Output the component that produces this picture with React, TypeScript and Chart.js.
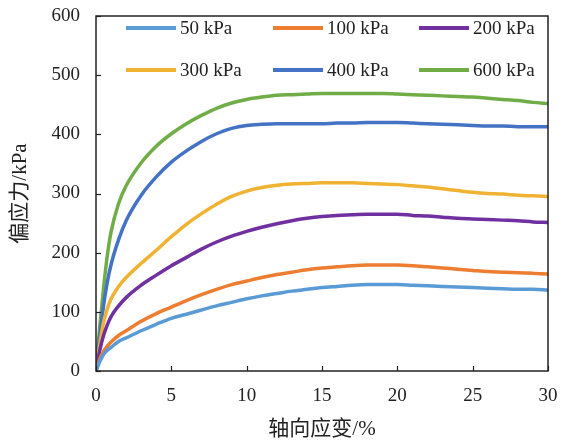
import React, { useEffect, useRef } from 'react';
import { Chart, registerables } from 'chart.js';

Chart.register(...registerables);

// Axial strain (%) sample points shared by every curve
const strain = [
  0, 0.25, 0.5, 0.75, 1, 1.5, 2, 3, 4, 5, 6, 7, 8, 9, 10, 11, 12, 13, 14, 15,
  16, 17, 18, 19, 20, 21, 22, 23, 24, 25, 26, 27, 28, 29, 30,
];

// Deviator stress (kPa) for each confining pressure
const s50 = [
  0, 16, 28, 35, 40, 50, 56, 68, 79, 89, 96, 103, 110, 116, 122, 127, 131, 135, 138, 141,
  143, 145, 146, 146, 146, 145, 144, 143, 142, 141, 140, 139, 138, 138, 137,
];
const s100 = [
  0, 20, 33, 42, 49, 60, 68, 84, 97, 108, 119, 129, 138, 146, 152, 158, 163, 167, 171, 174,
  176, 178, 179, 179, 179, 178, 176, 174, 172, 170, 168, 167, 166, 165, 164,
];
const s200 = [
  0, 35, 60, 78, 92, 110, 124, 145, 162, 178, 192, 206, 218, 228, 236, 243, 249, 254, 258, 261,
  263, 264, 265, 265, 265, 263, 262, 260, 258, 257, 256, 255, 254, 252, 251,
];
const s300 = [
  0, 45, 82, 105, 122, 143, 158, 182, 204, 227, 248, 266, 282, 295, 304, 310, 314, 316, 317, 318,
  318, 318, 317, 316, 315, 313, 311, 308, 305, 302, 300, 299, 297, 296, 295,
];
const s400 = [
  0, 60, 110, 150, 180, 222, 254, 297, 328, 353, 372, 388, 401, 410, 415, 417, 418, 418, 418, 418,
  419, 419, 420, 420, 420, 419, 418, 417, 416, 415, 414, 414, 413, 413, 413,
];
const s600 = [
  0, 75, 140, 195, 235, 283, 313, 352, 380, 401, 418, 432, 444, 453, 459, 463, 466, 467, 468, 469,
  469, 469, 469, 469, 468, 467, 466, 465, 464, 463, 461, 459, 457, 454, 452,
];

const seriesLabels = ['50 kPa', '100 kPa', '200 kPa', '300 kPa', '400 kPa', '600 kPa'];
const seriesValues = [s50, s100, s200, s300, s400, s600];
const seriesColors = ['#5B9BD5', '#ED7D31', '#7030A0', '#F0B232', '#4472C4', '#70AD47'];

const xMin = 0;
const xMax = 30;
const xStep = 5;
const yMin = 0;
const yMax = 600;
const yStep = 100;

const xTitle = '轴向应变/%';
const yTitle = '偏应力/kPa';

const FONT = "'Liberation Serif', 'Noto Sans CJK SC', serif";
const INK = '#222';
const TICK_SIZE = 19;
const TITLE_SIZE = 21;

// Plot frame on all four sides with inward tick marks
const framePlugin = {
  id: 'frame',
  afterDatasetsDraw(chart: any) {
    const { ctx, chartArea, scales } = chart;
    const { left, right, top, bottom } = chartArea;
    ctx.save();
    ctx.strokeStyle = INK;
    ctx.lineWidth = 1.5;
    ctx.strokeRect(left, top, right - left, bottom - top);
    ctx.lineWidth = 1.2;
    const tl = 5;
    scales.x.ticks.forEach((t: any) => {
      const px = Math.round(scales.x.getPixelForValue(t.value)) + 0.5;
      ctx.beginPath();
      ctx.moveTo(px, bottom);
      ctx.lineTo(px, bottom - tl);
      ctx.stroke();
    });
    scales.y.ticks.forEach((t: any) => {
      const py = Math.round(scales.y.getPixelForValue(t.value)) + 0.5;
      ctx.beginPath();
      ctx.moveTo(left, py);
      ctx.lineTo(left + tl, py);
      ctx.stroke();
    });
    ctx.restore();
  },
};

// Two-row legend drawn inside the plot area
const legendPlugin = {
  id: 'insideLegend',
  afterDraw(chart: any) {
    const { ctx, chartArea } = chart;
    const colOffsets = [30, 177, 323];
    const rowOffsets = [12, 54];
    const lineLen = 50;
    ctx.save();
    ctx.font = `${TICK_SIZE}px ${FONT}`;
    ctx.textBaseline = 'middle';
    ctx.fillStyle = INK;
    chart.data.datasets.forEach((ds: any, i: number) => {
      const x = chartArea.left + colOffsets[i % 3];
      const y = chartArea.top + rowOffsets[Math.floor(i / 3)];
      ctx.strokeStyle = ds.borderColor;
      ctx.lineWidth = 4;
      ctx.lineCap = 'butt';
      ctx.beginPath();
      ctx.moveTo(x, y);
      ctx.lineTo(x + lineLen, y);
      ctx.stroke();
      ctx.fillText(ds.label, x + lineLen + 4, y + 1);
    });
    ctx.restore();
  },
};

export default function App() {
  const canvasRef = useRef<HTMLCanvasElement | null>(null);

  useEffect(() => {
    document.body.style.margin = '0';
    const canvas = canvasRef.current;
    if (!canvas) return;

    const datasets = seriesLabels.map((label, i) => ({
      label,
      data: strain.map((x, k) => ({ x, y: seriesValues[i][k] })),
      borderColor: seriesColors[i],
      backgroundColor: seriesColors[i],
      borderWidth: 3.5,
      pointRadius: 0,
      cubicInterpolationMode: 'monotone' as const,
      fill: false,
    }));

    const chart = new Chart(canvas, {
      type: 'line',
      data: { datasets },
      options: {
        responsive: false,
        animation: false,
        layout: { padding: { left: 0, top: 16, right: 18, bottom: 0 } },
        plugins: {
          legend: { display: false },
          tooltip: { enabled: false },
        },
        scales: {
          x: {
            type: 'linear',
            min: xMin,
            max: xMax,
            grid: { display: false, drawTicks: false },
            border: { display: false },
            ticks: {
              stepSize: xStep,
              color: INK,
              padding: 14,
              font: { family: FONT, size: TICK_SIZE },
            },
            title: {
              display: true,
              text: xTitle,
              color: INK,
              font: { family: FONT, size: TITLE_SIZE },
              padding: { top: 0, bottom: 1 },
            },
            afterFit: (scale: any) => {
              scale.height = 72;
              scale.paddingLeft = 0;
              scale.paddingRight = 0;
            },
          },
          y: {
            type: 'linear',
            min: yMin,
            max: yMax,
            grid: { display: false, drawTicks: false },
            border: { display: false },
            ticks: {
              stepSize: yStep,
              color: INK,
              padding: 16,
              font: { family: FONT, size: TICK_SIZE },
            },
            title: {
              display: true,
              text: yTitle,
              color: INK,
              font: { family: FONT, size: TITLE_SIZE },
              padding: { top: 8, bottom: 0 },
            },
            afterFit: (scale: any) => {
              scale.width = 96;
              scale.paddingTop = 0;
              scale.paddingBottom = 0;
            },
          },
        },
      },
      plugins: [framePlugin, legendPlugin],
    });

    return () => chart.destroy();
  }, []);

  return (
    <div style={{ width: 566, height: 443 }}>
      <canvas ref={canvasRef} width={566} height={443} />
    </div>
  );
}
